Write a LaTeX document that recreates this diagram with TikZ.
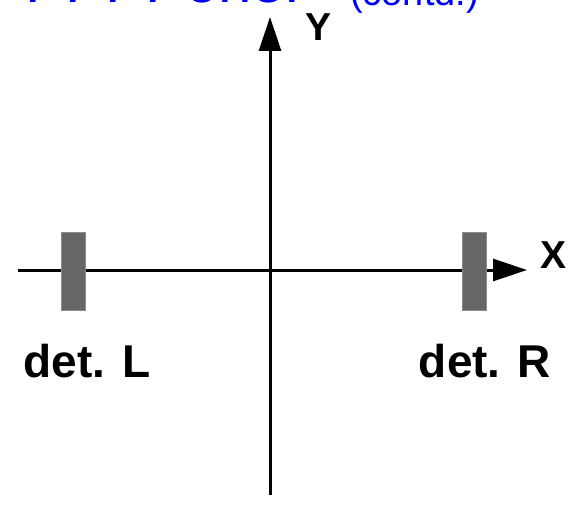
\documentclass[tikz,border=0pt]{standalone}
\usepackage{fontspec}
\setsansfont{Liberation Sans}
\usetikzlibrary{arrows.meta, positioning}

\begin{document}
\begin{tikzpicture}[
  x=1pt,
  y=-1pt,
  >={Triangle[length=34pt, width=22pt]},
  font=\sffamily\bfseries,
  axis/.style={->, line width=3pt},
  detector/.style={draw=black!45, fill=black!60, line width=0.8pt,
    inner sep=0pt, minimum width=24pt, minimum height=78pt},
  detlab/.style={anchor=base, inner sep=0pt,
    font=\sffamily\bfseries\fontsize{46}{50}\selectfont},
  axlab/.style={anchor=base west, inner sep=0pt,
    font=\sffamily\bfseries\fontsize{39}{42}\selectfont},
  heading/.style={anchor=base west, inner sep=0pt, text=blue,
    font=\sffamily\fontsize{60}{66}\selectfont}
]
  \useasboundingbox (0,0) rectangle (571,527);

  % Title line, cut off at the top edge of the page.
  \begin{scope}
    \clip (0,0) rectangle (571,527);
    \node[heading] at (25,3) (ttl)   {PPPPoner};
    \node[heading, font=\sffamily\fontsize{38}{42}\selectfont] at (350,6) (contd) {(contd.)};
  \end{scope}

  % Axes.
  \coordinate (ybot) at (270,495);
  \coordinate (ytop) at (270,17);
  \coordinate (xleft) at (18,270);
  \coordinate (xright) at (527,270);
  \draw[axis] (ybot) -- (ytop);
  \draw[axis] (xleft) -- (xright);
  \node[axlab] at (305,41)  (ylab) {Y};
  \node[axlab] at (540,268) (xlab) {X};

  % Detectors on the x axis.
  \node[detector] at (73,271)  (detL) {};
  \node[detector] at (474,271) (detR) {};
  \node[detlab] at (87,377)  (labL) {det. L};
  \node[detlab] at (485,377) (labR) {det. R};
\end{tikzpicture}
\end{document}
